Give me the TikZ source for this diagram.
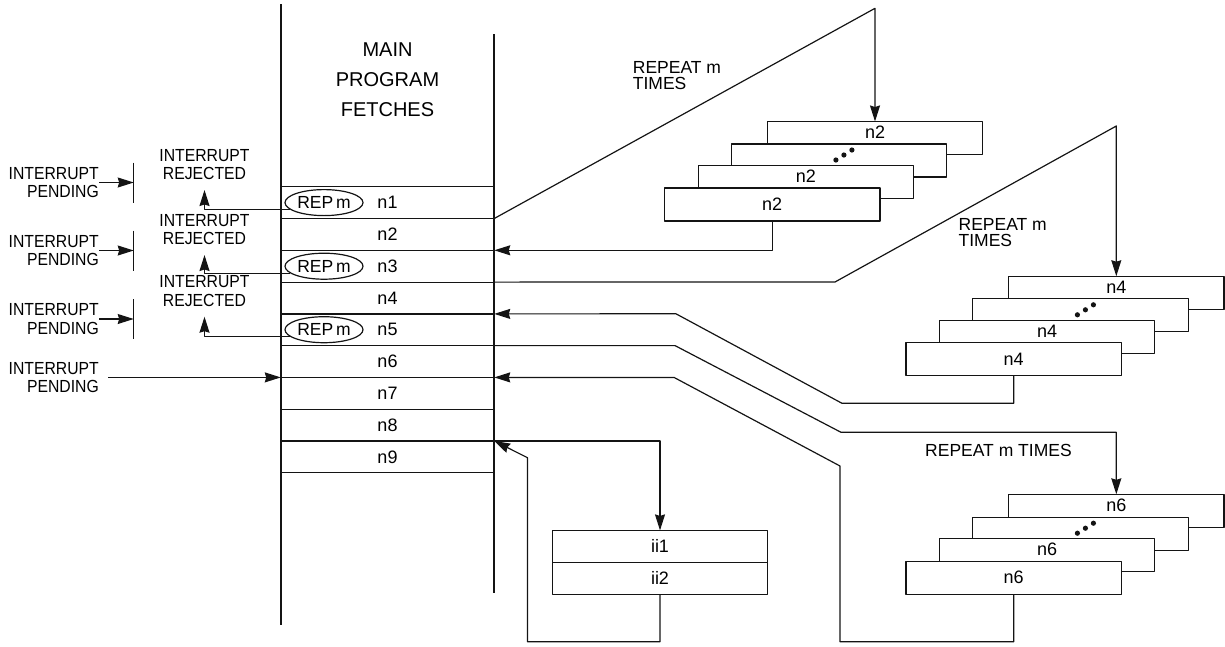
\documentclass[tikz,border=0pt]{standalone}
\usepackage{fontspec}
\setmainfont{Liberation Sans}
\newfontfamily\narrowsans[FakeStretch=0.9]{Liberation Sans}
\usetikzlibrary{arrows.meta,shapes.geometric}
\definecolor{Ink}{HTML}{141414}
\tikzset{
  slot/.style={draw=Ink,line width=1.2pt,minimum width=213.5pt,minimum height=31.8pt,inner sep=0pt,outer sep=0pt,font=\fontsize{18}{20}\selectfont},
  card/.style={slot,fill=white,minimum width=215.5pt,minimum height=33pt},
  upper/.style={text depth=11pt},
  repm/.style={ellipse,draw=Ink,line width=1.2pt,minimum width=78pt,minimum height=26pt,inner sep=0pt,font=\fontsize{17.5}{18}\selectfont},
  pend/.style={font=\narrowsans\fontsize{17.5}{18.5}\selectfont,align=right,inner sep=0pt,anchor=east},
  rej/.style={font=\narrowsans\fontsize{17.5}{18.5}\selectfont,align=center,inner xsep=0pt,inner ysep=10pt,anchor=south},
  note/.style={font=\fontsize{17.5}{16}\selectfont,align=left,inner sep=0pt,anchor=west},
  arr/.style={-{Stealth[length=16pt,width=10pt,inset=1.5pt]},line width=1.2pt,draw=Ink},
  wire/.style={line width=1.2pt,draw=Ink},
}

\begin{document}
\begin{tikzpicture}[x=1pt,y=-1pt,line join=round]
\useasboundingbox (0,0) rectangle (1225,646);
% main program column
\draw[wire] (281,4) -- (281,625);
\draw[wire] (494,34) -- (494,593);
\node[font=\fontsize{20}{30}\selectfont,align=center] (head) at (387.5,80) {MAIN\\PROGRAM\\FETCHES};
\node[slot] (n1) at (387.5,202.6) {n1};
\node[slot] (n2) at (387.5,234.4) {n2};
\node[slot] (n3) at (387.5,266.2) {n3};
\node[slot] (n4) at (387.5,298.0) {n4};
\node[slot] (n5) at (387.5,329.7) {n5};
\node[slot] (n6) at (387.5,361.5) {n6};
\node[slot] (n7) at (387.5,393.3) {n7};
\node[slot] (n8) at (387.5,425.1) {n8};
\node[slot] (n9) at (387.5,456.8) {n9};
\node[repm] (r1) at (324,202.6) {REP\,m};
\node[repm] (r3) at (324,266.2) {REP\,m};
\node[repm] (r5) at (324,329.7) {REP\,m};

% interrupts on the left
\node[pend] (pend1) at (99,182.5) {INTERRUPT\\PENDING};
\node[pend] (pend2) at (99,250.5) {INTERRUPT\\PENDING};
\node[pend] (pend3) at (99,319) {INTERRUPT\\PENDING};
\node[pend] (pend4) at (99,377.4) {INTERRUPT\\PENDING};
\coordinate (g1) at (133.7,182.5);
\coordinate (g2) at (133.7,250.5);
\coordinate (g3) at (133.7,319);
\draw[wire] ([yshift=20pt]g1) -- ([yshift=-20pt]g1);
\draw[wire] ([yshift=20pt]g2) -- ([yshift=-20pt]g2);
\draw[wire] ([yshift=20pt]g3) -- ([yshift=-20pt]g3);
\draw[arr] (pend1.east) -- (g1);
\draw[arr] (pend2.east) -- (g2);
\draw[arr] (pend3.east) -- (g3);
\draw[arr] ([xshift=9pt]pend4.east) -- (n6.south west);
\node[rej] (rej1) at (204.5,190) {INTERRUPT\\REJECTED};
\node[rej] (rej3) at (204.5,255) {INTERRUPT\\REJECTED};
\node[rej] (rej5) at (204.5,316.7) {INTERRUPT\\REJECTED};
\draw[arr] (r1.192) -| (rej1.south);
\draw[arr] (r3.192) -| (rej3.south);
\draw[arr] (r5.192) -| (rej5.south);

% repeated n2
\node[card,upper] (a4) at (875,138) {n2};
\node[card] (a3) at (838.9,160.5) {};
\node[card,upper] (a2) at (805.9,182.2) {n2};
\node[card] (a1) at (772.2,204.5) {n2};
\fill[Ink] ([shift={(-3,-0.5)}]a3.center) circle[radius=2.6pt] ([shift={(5,-5.5)}]a3.center) circle[radius=2.6pt] ([shift={(13,-10.5)}]a3.center) circle[radius=2.6pt];
\node[note] (rptA) at (632.7,76) {REPEAT m\\TIMES};
\draw[arr] (n1.south east) -- (a4.north |- 0,8.3) -- (a4.north);
\draw[arr] (a1.south) |- (n2.south east);

% repeated n4
\node[card,upper] (b4) at (1116.3,292.7) {n4};
\node[card] (b3) at (1080.4,315.3) {};
\node[card,upper] (b2) at (1047,336.7) {n4};
\node[card] (b1) at (1013.7,359.2) {n4};
\fill[Ink] ([shift={(-3,-0.5)}]b3.center) circle[radius=2.6pt] ([shift={(5,-5.5)}]b3.center) circle[radius=2.6pt] ([shift={(13,-10.5)}]b3.center) circle[radius=2.6pt];
\node[note] (rptB) at (958.4,233) {REPEAT m\\TIMES};
\draw[arr] (n3.south east) -- (835,282) -- (b4.north |- 0,126) -- (b4.north);
\draw[arr] (b1.south) -- (b1.south |- 0,403.3) -- (842,403.3) -- (676,313.8) -- (n4.south east);

% repeated n6
\node[card,upper] (c4) at (1116.3,510.8) {n6};
\node[card] (c3) at (1080.4,533.7) {};
\node[card,upper] (c2) at (1047,555.2) {n6};
\node[card] (c1) at (1013.7,577.7) {n6};
\fill[Ink] ([shift={(-3,-0.5)}]c3.center) circle[radius=2.6pt] ([shift={(5,-5.5)}]c3.center) circle[radius=2.6pt] ([shift={(13,-10.5)}]c3.center) circle[radius=2.6pt];
\node[note] (rptC) at (925,450.7) {REPEAT m TIMES};
\draw[arr] (n5.south east) -- (675,345.6) -- (841,432.3) -- (c4.north |- 0,432.3) -- (c4.north);
\draw[arr] (c1.south) -- (c1.south |- 0,641.7) -- (840,641.7) -- (840,466) -- (674,377.4) -- (n6.south east);

% interrupt routine
\node[slot,minimum width=215pt] (ii1) at (660,546.3) {ii1};
\node[slot,minimum width=215pt] (ii2) at (660,578.3) {ii2};
\draw[arr] (n8.south east) -| (ii1.north);
\draw[arr] (ii2.south) -- (ii2.south |- 0,641.7) -- (527.5,641.7) -- (527.5,457.7) -- (n8.south east);
\end{tikzpicture}
\end{document}
